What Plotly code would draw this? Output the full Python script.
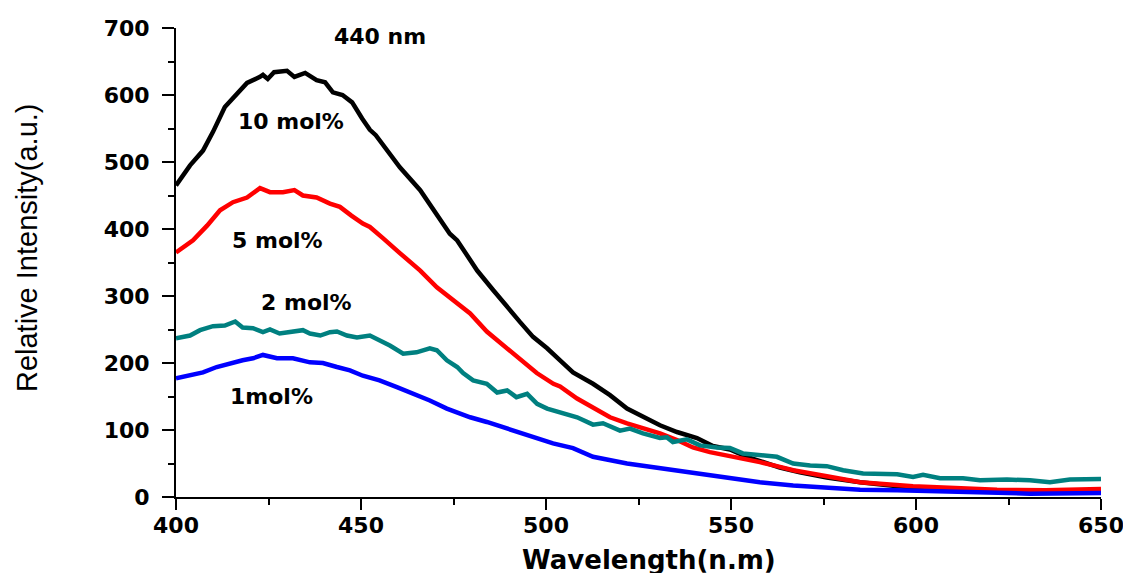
import plotly.graph_objects as go

# ---- data ----
wl_10 = [400, 403.8, 407.3, 410, 413.2, 416.5, 419.2, 422.7, 423.5, 424.8, 426.5, 430, 432, 434.9, 438, 440.3,
         442.4, 445, 447.6, 450.3, 452.4, 454, 457, 460.5, 466, 470.5, 474, 476, 481.4, 485.7, 489.5, 493,
         496.5, 500.3, 503.8, 507.3, 512.7, 517.3, 521.9, 526.2, 530.8, 535.4, 540.8, 545.1, 549.7, 554.3,
         558.6, 563.2, 568.6, 575.9, 584.9, 595, 605, 620, 635, 650]
int_10 = [465, 495, 517, 545, 582, 603, 618, 627, 630, 624, 634, 636, 627, 633, 622, 619,
          604, 600, 589, 565, 548, 540, 517, 492, 458, 423, 393, 383, 338, 309, 283, 261,
          239, 222, 204, 186, 169, 152, 132, 119, 107, 97, 88, 76, 71, 60,
          52, 44, 37, 29, 22, 16, 12, 9, 7, 8]

wl_5 = [400, 404.6, 408.4, 411.9, 415.4, 419.2, 422.7, 425.4, 428.9, 432, 434.3, 438, 441.6, 444.3, 447.4,
        450.5, 452.4, 454.3, 456, 460.5, 466, 470.5, 474.9, 479.5, 484, 489.5, 493, 497.5, 502, 503.8,
        508.4, 512.7, 517.3, 521.9, 526.2, 530.8, 535.4, 539.7, 544.3, 548.9, 553.2, 557.8, 562.4, 566.8,
        575.9, 584.9, 599.2, 621.9, 635, 650]
int_5 = [365, 383, 405, 428, 440, 447, 461, 455, 455, 458, 450, 447, 438, 433, 420,
         408, 403, 395, 386, 364, 338, 313, 294, 274, 247, 222, 204, 185, 169, 165,
         147, 134, 119, 110, 103, 95, 85, 74, 67, 62, 58, 52, 46, 40,
         31, 22, 16, 11, 10, 12]

wl_2 = [400, 403.8, 406.5, 410, 413.2, 416, 418, 420.8, 423.5, 425.4, 428, 430.8, 434.3, 436.2, 439, 441.6,
        443.5, 446.2, 448.9, 452.4, 455, 457.8, 461.4, 465, 468.6, 470.5, 473.2, 476, 477.6, 480.3, 484,
        486.8, 489.5, 492, 494.9, 497.6, 500.3, 503.8, 508.4, 512.7, 515.4, 520, 522.7, 526.2, 530.8,
        532.7, 534.3, 538.1, 541.6, 546.2, 549.7, 553.2, 557.8, 562.4, 566.8, 571.4, 575.9, 580.3, 585.7,
        590.3, 594.9, 599.2, 601.9, 606.5, 612.7, 617.3, 624.6, 630.8, 636.2, 641.6, 647, 650]
int_2 = [237, 241, 249, 255, 256, 262, 253, 252, 246, 250, 244, 246, 249, 244, 241, 246,
         247, 241, 238, 241, 234, 226, 214, 216, 222, 219, 204, 194, 185, 174, 169,
         156, 159, 149, 154, 139, 132, 126, 119, 108, 110, 99, 102, 95, 88,
         89, 82, 86, 77, 74, 73, 65, 62, 60, 50, 47, 46, 40, 35,
         35, 34, 30, 33, 28, 28, 25, 26, 25, 22, 26, 26, 27]

wl_1 = [400, 403.8, 407.3, 411, 414.6, 418, 420.8, 423.5, 427.3, 431.6, 436.2, 439.7, 443.5, 447, 450.5,
        455, 459.7, 464, 468.6, 473.2, 477.6, 479.5, 484, 488.4, 493, 497.6, 501.9, 507.3, 512.7, 521.9,
        530.8, 539.7, 548.9, 557.8, 566.8, 575.9, 584.9, 594.9, 612.7, 630.8, 650]
int_1 = [177, 182, 186, 194, 200, 204, 207, 212, 207, 207, 201, 200, 194, 189, 181,
         174, 164, 155, 144, 132, 122, 119, 112, 104, 95, 88, 80, 73, 60, 50,
         43, 35, 28, 22, 17, 14, 11, 10, 7, 5, 6]

series = [
    ("10 mol%", wl_10, int_10, "#000000"),
    ("5 mol%", wl_5, int_5, "#FF0000"),
    ("1mol%", wl_1, int_1, "#0000FF"),
    ("2 mol%", wl_2, int_2, "#008080"),
]

labels = ["440 nm", "10 mol%", "5 mol%", "2 mol%", "1mol%"]
label_x = [455.1, 431.1, 427.3, 435.4, 425.7]
label_y = [688, 560, 383, 291, 150]

x_ticks = [400, 450, 500, 550, 600, 650]
y_ticks = [0, 100, 200, 300, 400, 500, 600, 700]

fig = go.Figure()
for name, xs, ys, col in series:
    fig.add_trace(go.Scatter(x=xs, y=ys, mode="lines", name=name,
                             line=dict(color=col, width=4.5)))

bold = dict(family="DejaVu Sans", size=22, color="black", weight="bold")

for t, xx, yy in zip(labels, label_x, label_y):
    fig.add_annotation(x=xx, y=yy, xref="x", yref="y", text=t, showarrow=False,
                       font=bold, xanchor="center", yanchor="middle")

# page body has an 8px margin: shift the layout so the plot sits where it does in the reference
fig.add_annotation(x=-0.161, y=0.531, xref="paper", yref="paper",
                   text="Relative Intensity(a.u.)", textangle=-90, showarrow=False,
                   font=dict(family="Liberation Sans", size=29, color="black"),
                   xanchor="center", yanchor="middle")
fig.add_annotation(x=0.511, y=-0.134, xref="paper", yref="paper",
                   text="Wavelength(n.m)", showarrow=False,
                   font=dict(family="DejaVu Sans", size=26, color="black", weight="bold"),
                   xanchor="center", yanchor="middle")

fig.update_layout(
    width=1131, height=573,
    margin=dict(l=168, r=38, t=20, b=84, autoexpand=False),
    paper_bgcolor="white", plot_bgcolor="white",
    showlegend=False,
)
fig.update_xaxes(range=[400, 650], tickvals=x_ticks, ticks="outside", ticklen=11, tickwidth=2,
                 tickcolor="black", showline=True, linecolor="black", linewidth=2,
                 showgrid=False, zeroline=False, tickfont=bold, ticklabelstandoff=-3,
                 automargin=False,
                 minor=dict(dtick=25, ticks="outside", ticklen=6, tickwidth=2, tickcolor="black",
                            showgrid=False))
fig.update_yaxes(range=[0, 700], tickvals=y_ticks, ticks="outside", ticklen=12, tickwidth=2,
                 tickcolor="black", showline=True, linecolor="black", linewidth=2,
                 showgrid=False, zeroline=False, tickfont=bold, ticklabelstandoff=8,
                 automargin=False,
                 minor=dict(dtick=50, ticks="outside", ticklen=6, tickwidth=2, tickcolor="black",
                            showgrid=False))

fig.write_html("out.html")
